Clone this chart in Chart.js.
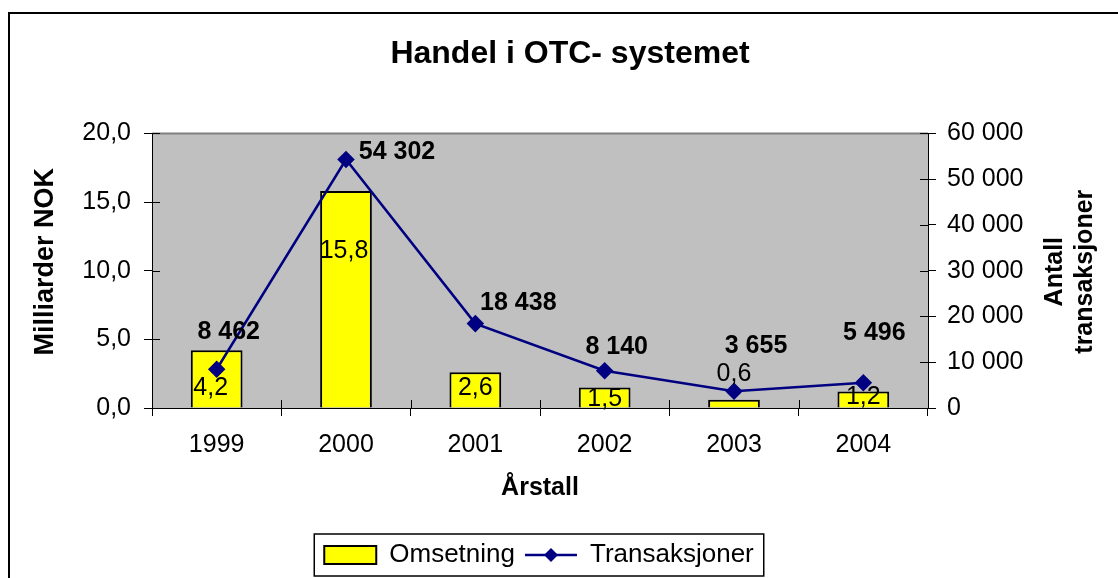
<!DOCTYPE html>
<html>
<head>
<meta charset="utf-8">
<title>Handel i OTC- systemet</title>
<script src="https://cdn.jsdelivr.net/npm/chart.js@4.4.0/dist/chart.umd.min.js"></script>
<style>
    html, body { margin: 0; padding: 0; background: #fff; }
    #wrap { width: 1118px; height: 578px; position: relative; }
</style>
</head>
<body>
<div id="wrap"><canvas id="myChart" width="1118" height="578"></canvas></div>
<script>
// data
var years = ['1999', '2000', '2001', '2002', '2003', '2004'];
var omsetning = [4.2, 15.8, 2.6, 1.5, 0.6, 1.2];          // milliarder NOK
var transaksjoner = [8462, 54302, 18438, 8140, 3655, 5496];
var leftTicks = [0, 5, 10, 15, 20];
var rightTicks = [0, 10000, 20000, 30000, 40000, 50000, 60000];

// label nudges (pixels) so the labels sit like in the original
var barLabelShift = [[-6, 38], [-2, 60], [0, 16], [0, 12], [0, -26], [0, 6]];
var lineLabelShift = [[12, -37], [51, -7], [43, -21], [12, -24], [22, -45], [11, -50]];

var FONT = "'Liberation Sans', Arial, sans-serif";

function komma(v) {
    return v.toFixed(1).replace('.', ',');
}
function mellomrom(v) {
    return String(v).replace(/\B(?=(\d{3})+(?!\d))/g, ' ');
}

// grey plot area + outer frame
var bakgrunn = {
    id: 'bakgrunn',
    afterLayout: function (chart) {
        // legend sits a bit left of the title in the original
        // (legend plugin recomputes its hit boxes afterwards)
        var lg = chart.legend;
        lg.left -= 31;
        lg.right -= 31;
    },
    beforeDraw: function (chart) {
        var c = chart.ctx, a = chart.chartArea;
        c.save();
        c.fillStyle = '#fff';
        c.fillRect(0, 0, chart.width, chart.height);
        c.fillStyle = '#c0c0c0';
        c.fillRect(a.left, a.top, a.right - a.left, a.bottom - a.top);
        c.strokeStyle = '#808080';
        c.lineWidth = 2;
        c.beginPath();
        c.moveTo(a.left, a.top);
        c.lineTo(a.right, a.top);
        c.stroke();
        // outer frame
        c.strokeStyle = '#000';
        c.lineWidth = 2;
        c.beginPath();
        c.moveTo(9, chart.height + 5);
        c.lineTo(9, 13);
        c.lineTo(chart.width + 5, 13);
        c.stroke();
        c.restore();
    }
};

// inner halves of the cross tick marks
var kryss = {
    id: 'kryss',
    afterDraw: function (chart) {
        var c = chart.ctx, a = chart.chartArea;
        c.save();
        c.strokeStyle = '#000';
        c.lineWidth = 1;
        c.beginPath();
        var x = chart.scales.x;
        for (var i = 0; i <= years.length; i++) {
            var px = Math.round(x.getPixelForValue(i - 0.5)) + 0.5;
            c.moveTo(px, a.bottom);
            c.lineTo(px, a.bottom - 8);
        }
        var y = chart.scales.y;
        leftTicks.forEach(function (t) {
            var py = Math.round(y.getPixelForValue(t)) + 0.5;
            c.moveTo(a.left, py);
            c.lineTo(a.left + 8, py);
        });
        var y2 = chart.scales.y2;
        rightTicks.forEach(function (t) {
            var py = Math.round(y2.getPixelForValue(t)) + 0.5;
            c.moveTo(a.right, py);
            c.lineTo(a.right - 8, py);
        });
        c.stroke();
        c.restore();
    }
};

// value labels
var etiketter = {
    id: 'etiketter',
    afterDatasetsDraw: function (chart) {
        var c = chart.ctx;
        c.save();
        c.textAlign = 'center';
        c.textBaseline = 'middle';
        c.fillStyle = '#000';

        var bars = chart.getDatasetMeta(0).data;
        c.font = '25px ' + FONT;
        bars.forEach(function (b, i) {
            c.fillText(komma(omsetning[i]), b.x + barLabelShift[i][0], b.y + barLabelShift[i][1]);
        });

        var pts = chart.getDatasetMeta(1).data;
        c.font = 'bold 25px ' + FONT;
        pts.forEach(function (p, i) {
            c.fillText(mellomrom(transaksjoner[i]), p.x + lineLabelShift[i][0], p.y + lineLabelShift[i][1]);
        });
        c.restore();
    }
};

// axis titles that read bottom to top + legend frame and diamond
var ekstra = {
    id: 'ekstra',
    afterDraw: function (chart) {
        var c = chart.ctx, a = chart.chartArea;
        var midt = (a.top + a.bottom) / 2;
        c.save();
        c.fillStyle = '#000';
        c.textAlign = 'center';
        c.textBaseline = 'middle';
        c.font = 'bold 27px ' + FONT;
        c.save();
        c.translate(46, midt - 9);
        c.rotate(-Math.PI / 2);
        c.fillText('Milliarder NOK', 0, 0);
        c.restore();
        c.font = 'bold 25px ' + FONT;
        c.translate(1070, midt + 1);
        c.rotate(-Math.PI / 2);
        c.fillText('Antall', 0, -15);
        c.fillText('transaksjoner', 0, 15);
        c.restore();

        var lg = chart.legend;
        var hb = lg.legendHitBoxes;
        if (!hb || !hb.length) return;
        var first = hb[0], last = hb[hb.length - 1];
        c.save();
        c.strokeStyle = '#000';
        c.lineWidth = 1.5;
        var l = first.left - 10, r = last.left + last.width + 10;
        var t = first.top - 8, btm = first.top + first.height + 8;
        c.strokeRect(l, t, r - l, btm - t);

        // diamond on the legend line
        var cx = last.left + lg.options.labels.pointStyleWidth / 2;
        var cy = last.top + last.height / 2;
        c.fillStyle = '#000080';
        c.beginPath();
        c.moveTo(cx, cy - 7);
        c.lineTo(cx + 7, cy);
        c.lineTo(cx, cy + 7);
        c.lineTo(cx - 7, cy);
        c.closePath();
        c.fill();
        c.restore();
    }
};

const ctx = document.getElementById('myChart');
var xx = new Chart(ctx, {
    data: {
        labels: years,
        datasets: [
            {
                type: 'bar',
                label: 'Omsetning',
                data: omsetning,
                yAxisID: 'y',
                backgroundColor: '#ffff00',
                borderColor: '#000',
                borderWidth: 2,
                barPercentage: 0.4,
                categoryPercentage: 1.0,
                order: 2
            },
            {
                type: 'line',
                label: 'Transaksjoner',
                data: transaksjoner,
                yAxisID: 'y2',
                borderColor: '#000080',
                backgroundColor: '#000080',
                borderWidth: 2.5,
                pointStyle: 'rectRot',
                pointRadius: 7,
                pointHoverRadius: 7,
                tension: 0,
                order: 1
            }
        ]
    },
    options: {
        responsive: false,
        animation: false,
        events: [],
        layout: { padding: { left: 22, right: 0, top: 0, bottom: 0 } },
        scales: {
            x: {
                offset: true,
                grid: { display: true, drawOnChartArea: false, offset: true, tickLength: 8, color: '#000' },
                border: { display: true, color: '#000', width: 1 },
                ticks: { color: '#000', font: { family: FONT, size: 25 }, padding: 14, maxRotation: 0 },
                title: { display: true, text: 'Årstall', color: '#000', font: { family: FONT, size: 25, weight: 'bold' }, padding: { top: 0, bottom: 29 } },
                afterFit: function (s) { s.height = 124; }
            },
            y: {
                position: 'left',
                min: 0,
                max: 20,
                afterBuildTicks: function (s) { s.ticks = leftTicks.map(function (v) { return { value: v }; }); },
                grid: { display: true, drawOnChartArea: false, tickLength: 8, color: '#000' },
                border: { display: true, color: '#000', width: 1 },
                ticks: { color: '#000', font: { family: FONT, size: 25 }, padding: 13, callback: function (v) { return komma(v); } },
                afterFit: function (s) { s.width = 130; }
            },
            y2: {
                position: 'right',
                min: 0,
                max: 60000,
                afterBuildTicks: function (s) { s.ticks = rightTicks.map(function (v) { return { value: v }; }); },
                grid: { display: true, drawOnChartArea: false, tickLength: 8, color: '#000' },
                border: { display: true, color: '#000', width: 1 },
                ticks: { color: '#000', font: { family: FONT, size: 25 }, padding: 11, callback: function (v) { return mellomrom(v); } },
                afterFit: function (s) { s.width = 190; }
            }
        },
        plugins: {
            title: {
                display: true,
                text: 'Handel i OTC- systemet',
                color: '#000',
                font: { family: FONT, size: 32, weight: 'bold' },
                padding: { top: 35, bottom: 60 }
            },
            legend: {
                position: 'bottom',
                labels: {
                    color: '#000',
                    font: { family: FONT, size: 26 },
                    usePointStyle: true,
                    pointStyleWidth: 52,
                    boxHeight: 18,
                    padding: 10,
                    generateLabels: function (chart) {
                        var items = Chart.defaults.plugins.legend.labels.generateLabels(chart);
                        items.sort(function (p, q) { return p.datasetIndex - q.datasetIndex; });
                        items.forEach(function (it) {
                            if (it.datasetIndex === 0) {
                                it.pointStyle = 'rect';
                                it.fillStyle = '#ffff00';
                                it.strokeStyle = '#000';
                                it.lineWidth = 2;
                            } else {
                                it.pointStyle = 'line';
                                it.strokeStyle = '#000080';
                                it.lineWidth = 2.5;
                            }
                        });
                        return items;
                    }
                }
            },
            tooltip: { enabled: false }
        }
    },
    plugins: [bakgrunn, kryss, etiketter, ekstra]
});
</script>
</body>
</html>
